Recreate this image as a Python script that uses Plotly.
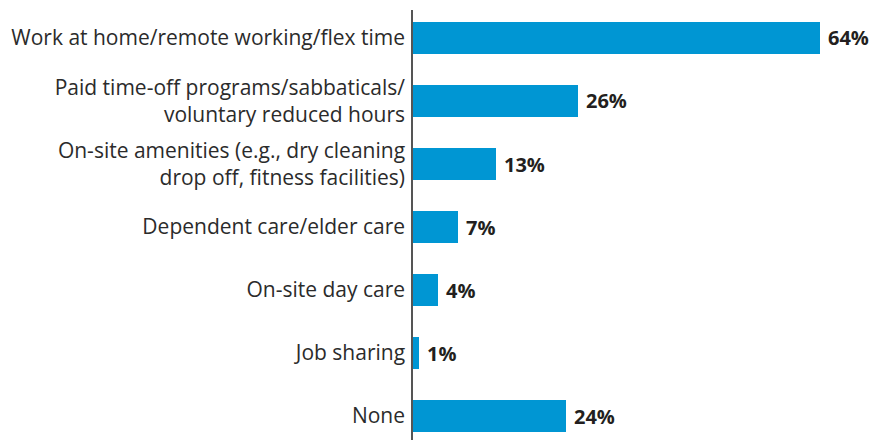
import plotly.graph_objects as go

categories = [
    "Work at home/remote working/flex time",
    "Paid time-off programs/sabbaticals/<br>voluntary reduced hours",
    "On-site amenities (e.g., dry cleaning<br>drop off, fitness facilities)",
    "Dependent care/elder care",
    "On-site day care",
    "Job sharing",
    "None",
]
values = [64, 26, 13, 7, 4, 1, 24]

BAR_COLOR = "#0096d3"
TEXT_COLOR = "#231f20"
FONT = "Open Sans"

fig = go.Figure(
    go.Bar(
        x=values,
        y=categories,
        orientation="h",
        marker=dict(color=BAR_COLOR, line=dict(width=0)),
        width=0.51,
        cliponaxis=False,
        hoverinfo="skip",
    )
)

# value labels just past the end of each bar
for cat, v in zip(categories, values):
    fig.add_annotation(
        x=v,
        y=cat,
        text=f"<b>{v}%</b>",
        showarrow=False,
        xanchor="left",
        yanchor="middle",
        xshift=6,
        font=dict(family=FONT, size=20, color=TEXT_COLOR),
    )

fig.update_layout(
    width=873,
    height=440,
    margin=dict(l=413, r=0, t=10, b=0),
    paper_bgcolor="white",
    plot_bgcolor="white",
    showlegend=False,
    font=dict(family=FONT, color="#2b2b2b"),
    bargap=0,
)

fig.update_xaxes(
    range=[0, 72.3],
    showgrid=False,
    zeroline=False,
    showticklabels=False,
    showline=False,
)

fig.update_yaxes(
    range=[6.38, -0.444],
    showgrid=False,
    zeroline=False,
    showline=True,
    linecolor="#555555",
    linewidth=1.5,
    ticks="",
    ticklabelstandoff=2,
    tickfont=dict(family=FONT, size=21, color="#2b2b2b"),
)

fig.write_html("out.html")
